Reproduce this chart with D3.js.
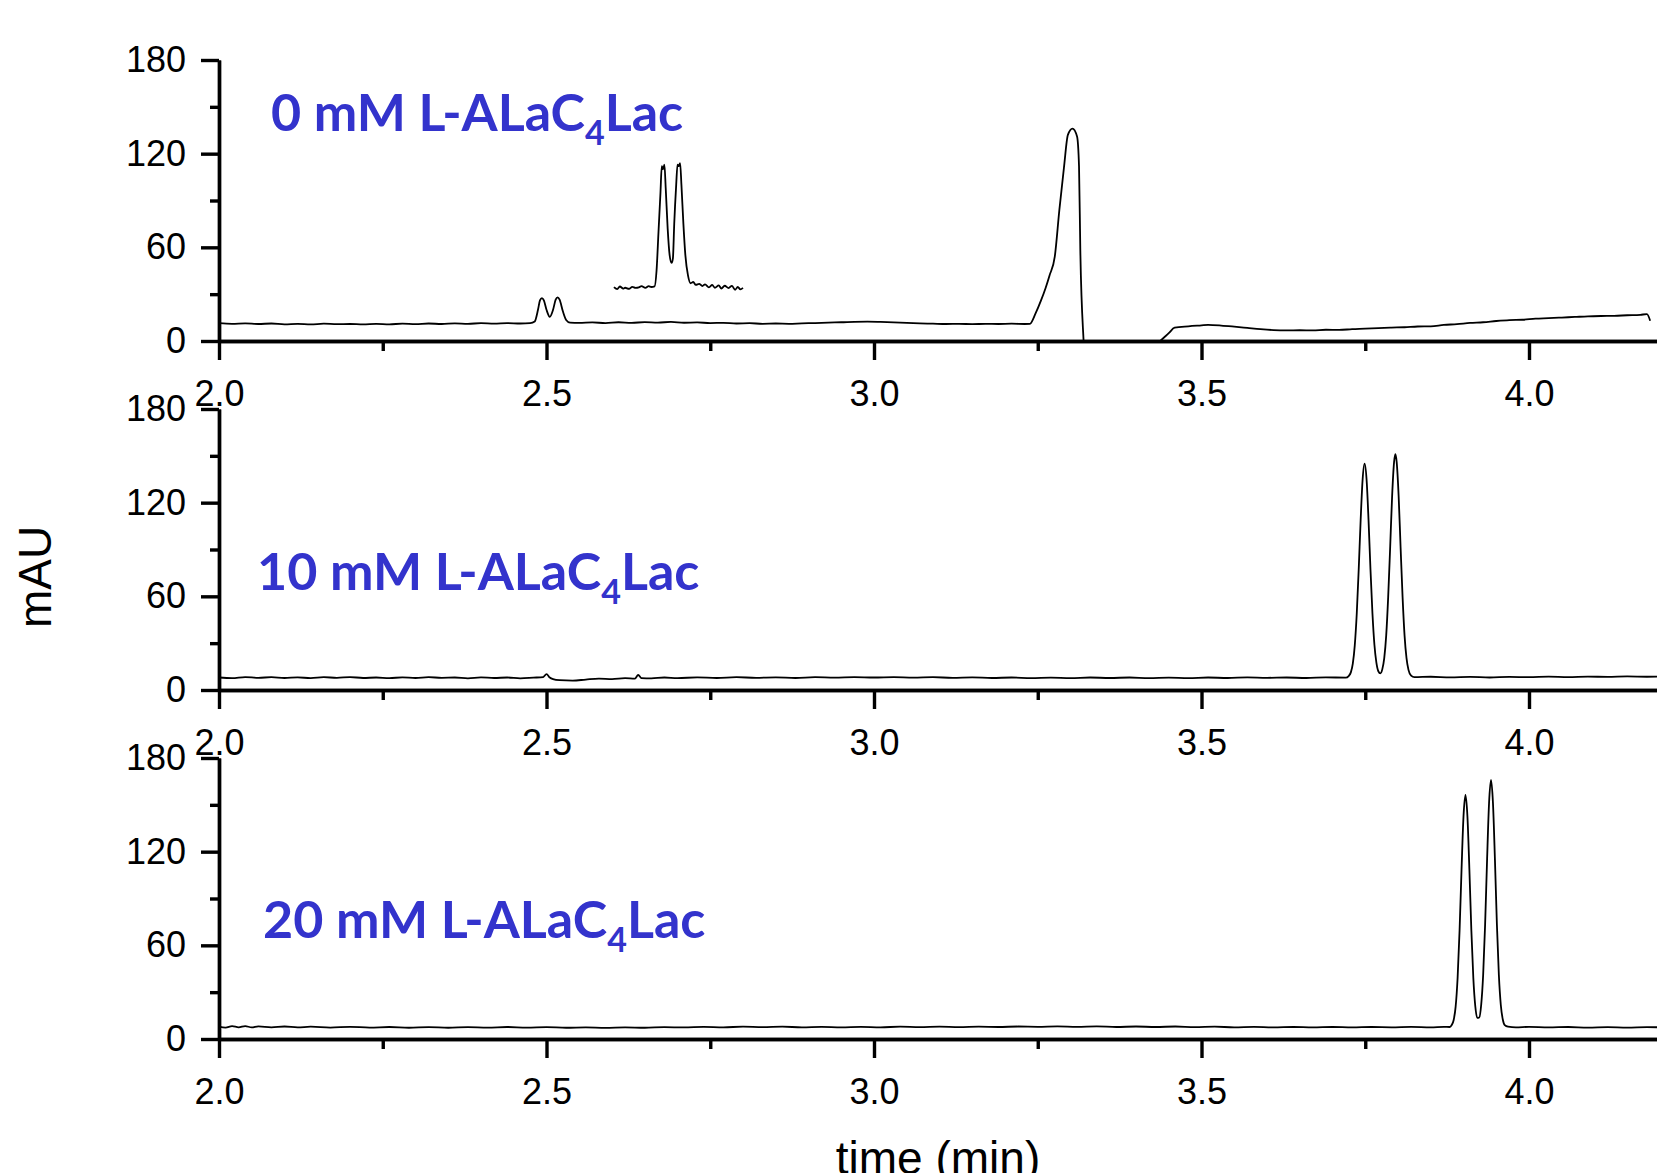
<!DOCTYPE html>
<html>
<head>
<meta charset="utf-8">
<script src="https://cdn.jsdelivr.net/npm/d3@7"></script>
<style>
  body { margin: 0; background: #fff; }
  svg { display: block; }
</style>
</head>
<body>
<svg></svg>
<script>
// tick values
const timeTicks = [2.0, 2.5, 3.0, 3.5, 4.0];
const timeMinorTicks = [2.25, 2.75, 3.25, 3.75];
const mauTicks = [0, 60, 120, 180];
const mauMinorTicks = [30, 90, 150];

// panel labels (concentration + compound, "4" is a subscript)
const concLabels = ["0 mM", "10 mM", "20 mM"];
const compoundHead = "L-ALaC";
const compoundSub = "4";
const compoundTail = "Lac";

// chromatograms, [time (min), mAU]
const trace0mM = [
  [2.00, 11.4], [2.02, 11.0], [2.04, 11.3], [2.06, 10.9], [2.08, 11.2], [2.10, 10.7],
  [2.12, 11.0], [2.14, 10.6], [2.16, 11.1], [2.18, 10.8], [2.20, 10.9], [2.22, 10.6],
  [2.24, 11.0], [2.26, 10.7], [2.28, 11.1], [2.30, 10.8], [2.32, 11.2], [2.34, 10.9],
  [2.36, 11.3], [2.38, 11.0], [2.40, 11.4], [2.42, 11.1], [2.44, 11.5], [2.46, 11.2],
  [2.475, 11.4], [2.482, 12.5], [2.487, 20], [2.490, 26], [2.493, 27.5], [2.496, 26],
  [2.500, 20], [2.505, 15.5], [2.510, 20], [2.514, 26.5], [2.517, 28], [2.520, 26.5],
  [2.525, 19], [2.530, 13.5], [2.536, 11.8], [2.55, 11.6], [2.57, 11.9], [2.59, 11.5],
  [2.61, 12.0], [2.63, 11.6], [2.65, 12.1], [2.67, 11.8], [2.69, 12.2], [2.71, 11.7],
  [2.73, 11.9], [2.75, 11.5], [2.77, 11.6], [2.79, 11.2], [2.81, 11.4], [2.83, 11.0],
  [2.85, 11.2], [2.87, 11.0], [2.89, 11.3], [2.91, 11.5], [2.93, 11.8], [2.95, 12.0],
  [2.97, 12.3], [2.99, 12.4], [3.01, 12.2], [3.03, 11.9], [3.05, 11.6], [3.07, 11.3],
  [3.09, 11.1], [3.11, 10.9], [3.13, 11.0], [3.15, 10.8], [3.17, 11.0], [3.19, 10.9],
  [3.21, 11.1], [3.23, 10.9], [3.238, 11.0], [3.247, 18], [3.255, 26], [3.262, 34],
  [3.268, 42], [3.276, 54], [3.283, 84], [3.290, 111], [3.296, 132], [3.303, 136],
  [3.310, 131], [3.313, 112], [3.315, 58], [3.320, 0], [3.326, -30], [3.35, -40],
  [3.40, -25], [3.43, -3], [3.437, 0], [3.450, 5], [3.459, 8.5], [3.48, 9.4],
  [3.50, 10.0], [3.51, 10.3], [3.53, 9.9], [3.55, 9.2], [3.57, 8.4], [3.59, 7.6],
  [3.61, 7.0], [3.63, 6.8], [3.65, 6.9], [3.67, 6.8], [3.69, 7.2], [3.71, 7.1],
  [3.73, 7.6], [3.75, 7.9], [3.77, 8.3], [3.79, 8.6], [3.81, 8.8], [3.83, 9.3],
  [3.85, 9.4], [3.87, 10.3], [3.89, 10.8], [3.91, 11.6], [3.93, 12.0], [3.95, 12.8],
  [3.97, 13.4], [3.99, 13.6], [4.01, 14.3], [4.03, 14.6], [4.05, 15.0], [4.07, 15.4],
  [4.09, 15.8], [4.11, 16.0], [4.13, 16.1], [4.15, 16.5], [4.17, 16.8], [4.18, 17.2],
  [4.185, 13]
];

// enlarged copy of the small peaks, drawn inside the first panel
const inset0mM = [
  [2.603, 34.5], [2.608, 33.2], [2.612, 34.9], [2.617, 33.6], [2.620, 34.1], [2.626, 33.4],
  [2.631, 34.7], [2.636, 34.0], [2.641, 34.3], [2.645, 35.2], [2.651, 34.0], [2.656, 35.1],
  [2.660, 34.6], [2.665, 35.0], [2.668, 45], [2.671, 70], [2.674, 95], [2.676, 112],
  [2.678, 110], [2.680, 113], [2.682, 98], [2.685, 72], [2.688, 55], [2.691, 50],
  [2.693, 53], [2.695, 75], [2.698, 100], [2.700, 113], [2.702, 112], [2.704, 114],
  [2.706, 100], [2.709, 75], [2.712, 55], [2.716, 42], [2.720, 37], [2.724, 37.8],
  [2.728, 35.9], [2.733, 36.6], [2.738, 35.2], [2.742, 36.3], [2.748, 34.4], [2.753, 35.9],
  [2.757, 34.1], [2.763, 35.6], [2.767, 33.6], [2.772, 35.4], [2.778, 33.9], [2.783, 35.3],
  [2.788, 32.8], [2.792, 34.6], [2.796, 33.1], [2.800, 34.0]
];

const trace10mM = [
  [2.00, 8.0], [2.02, 7.6], [2.04, 8.3], [2.06, 7.8], [2.08, 8.2], [2.10, 7.7], [2.12, 8.1],
  [2.14, 7.6], [2.16, 8.2], [2.18, 7.8], [2.20, 8.3], [2.22, 7.7], [2.24, 8.0], [2.26, 7.6],
  [2.28, 8.1], [2.30, 7.7], [2.32, 8.2], [2.34, 7.8], [2.36, 8.0], [2.38, 7.5], [2.40, 8.1],
  [2.42, 7.7], [2.44, 8.0], [2.46, 7.4], [2.48, 7.9], [2.495, 8.3], [2.50, 10.2], [2.505, 8.0],
  [2.51, 7.0], [2.52, 6.3], [2.54, 6.0], [2.56, 6.7], [2.58, 7.3], [2.60, 7.0], [2.62, 7.6],
  [2.635, 7.3], [2.64, 9.6], [2.645, 7.6], [2.66, 7.4], [2.68, 8.0], [2.70, 7.6], [2.73, 8.1],
  [2.76, 7.7], [2.79, 8.2], [2.82, 7.8], [2.85, 8.1], [2.88, 7.7], [2.91, 8.2], [2.94, 7.9],
  [2.97, 8.3], [3.00, 8.0], [3.03, 8.3], [3.06, 7.9], [3.09, 8.2], [3.12, 7.8], [3.15, 8.1],
  [3.18, 7.7], [3.21, 8.0], [3.24, 7.6], [3.27, 7.9], [3.30, 7.6], [3.33, 8.0], [3.36, 7.7],
  [3.39, 8.0], [3.42, 7.6], [3.45, 7.9], [3.48, 7.6], [3.51, 8.0], [3.54, 7.7], [3.57, 8.1],
  [3.60, 7.8], [3.63, 8.0], [3.66, 7.7], [3.69, 8.1], [3.72, 7.9], [3.725, 9.1], [3.728, 11.3],
  [3.731, 16.9], [3.734, 28.6], [3.737, 48.7], [3.740, 77.2], [3.743, 109], [3.746, 135],
  [3.749, 145], [3.752, 135], [3.755, 109], [3.758, 77], [3.761, 49], [3.764, 29],
  [3.767, 17.5], [3.770, 12], [3.773, 10.7], [3.776, 13.2], [3.779, 20.4], [3.782, 35],
  [3.785, 59.5], [3.788, 91], [3.791, 124], [3.794, 146], [3.796, 151], [3.798, 146],
  [3.801, 124], [3.804, 91], [3.807, 59.5], [3.810, 35], [3.813, 20.4], [3.816, 12.9],
  [3.820, 9.2], [3.825, 8.2], [3.85, 8.5], [3.88, 8.1], [3.91, 8.4], [3.94, 8.0],
  [3.97, 8.4], [4.00, 8.2], [4.03, 8.6], [4.06, 8.3], [4.09, 8.6], [4.12, 8.4],
  [4.15, 8.7], [4.18, 8.5], [4.21, 8.7]
];

const trace20mM = [
  [2.00, 8.0], [2.01, 7.3], [2.02, 8.2], [2.03, 7.5], [2.04, 8.3], [2.05, 7.4], [2.06, 8.1],
  [2.08, 7.5], [2.10, 8.0], [2.12, 7.4], [2.14, 7.9], [2.17, 7.3], [2.20, 7.8], [2.23, 7.3],
  [2.26, 7.7], [2.29, 7.2], [2.32, 7.6], [2.35, 7.2], [2.38, 7.6], [2.41, 7.3], [2.44, 7.7],
  [2.47, 7.3], [2.50, 7.6], [2.53, 7.2], [2.56, 7.5], [2.59, 7.1], [2.62, 7.5], [2.65, 7.2],
  [2.68, 7.6], [2.71, 7.4], [2.74, 7.8], [2.77, 7.5], [2.80, 7.9], [2.83, 7.6], [2.86, 7.9],
  [2.89, 7.5], [2.92, 7.8], [2.95, 7.5], [2.98, 7.8], [3.01, 7.5], [3.04, 7.9], [3.07, 7.6],
  [3.10, 7.9], [3.13, 7.6], [3.16, 7.9], [3.19, 7.7], [3.22, 8.0], [3.25, 7.8], [3.28, 8.1],
  [3.31, 7.8], [3.34, 8.1], [3.37, 7.7], [3.40, 8.0], [3.43, 7.7], [3.46, 8.0], [3.49, 7.6],
  [3.52, 7.9], [3.55, 7.5], [3.58, 7.8], [3.61, 7.4], [3.64, 7.7], [3.67, 7.4], [3.70, 7.7],
  [3.73, 7.4], [3.76, 7.7], [3.79, 7.5], [3.82, 7.8], [3.85, 7.5], [3.87, 7.8], [3.879, 7.7],
  [3.882, 9.0], [3.885, 12.2], [3.888, 20.7], [3.891, 39.1], [3.894, 69.5], [3.897, 108.4],
  [3.900, 142.5], [3.903, 156.3], [3.906, 142.5], [3.909, 108.4], [3.912, 69.5], [3.915, 39.1],
  [3.918, 21], [3.921, 13.5], [3.924, 13.8], [3.927, 21.9], [3.930, 41], [3.933, 73.4],
  [3.936, 114.8], [3.939, 151], [3.942, 165.9], [3.945, 151], [3.948, 114.8], [3.951, 73.4],
  [3.954, 41], [3.957, 21.6], [3.960, 12.5], [3.963, 8.9], [3.968, 7.9], [3.98, 7.5],
  [4.00, 7.8], [4.03, 7.4], [4.06, 7.7], [4.09, 7.3], [4.12, 7.6], [4.15, 7.3], [4.18, 7.6],
  [4.21, 7.4]
];

const traces = [[trace0mM, inset0mM], [trace10mM], [trace20mM]];

// graph dimensions
const width = 1657;
const height = 1173;
const left = 219;
const right = 1660;
const panelTop = [60, 409, 758];
const panelBottom = [341, 690, 1039];
const labelPos = [[271, 131], [257, 590], [263, 938]];

const axisFont = "'Liberation Sans', Arial, sans-serif";
const labelColor = "#3333cc";

let xScale;
let yScales = [];
const svg = d3.select("svg");

const drawGraph = () => {
  svg.attr("width", width).attr("height", height);
  svg.append("rect").attr("width", width).attr("height", height).attr("fill", "#fff");
};

const createScales = () => {
  xScale = d3.scaleLinear().domain([2.0, 4.2]).range([left, right]);
  yScales = panelTop.map((top, i) =>
    d3.scaleLinear().domain([0, 180]).range([panelBottom[i], top])
  );
};

const styleAxis = (g) => {
  g.select(".domain").attr("stroke", "#000").attr("stroke-width", 3.4);
  g.selectAll(".tick line").attr("stroke", "#000").attr("stroke-width", 3.4);
  g.selectAll(".tick text")
    .attr("fill", "#000")
    .style("font-family", axisFont)
    .style("font-size", "36px");
};

const drawAxis = () => {
  yScales.forEach((yScale, i) => {
    // x axis with major + minor ticks
    svg.append("g")
      .attr("transform", "translate(0," + panelBottom[i] + ")")
      .call(d3.axisBottom(xScale).tickValues(timeMinorTicks).tickSize(10).tickSizeOuter(0).tickFormat(""))
      .call(styleAxis);
    svg.append("g")
      .attr("transform", "translate(0," + panelBottom[i] + ")")
      .call(d3.axisBottom(xScale).tickValues(timeTicks).tickSize(19).tickSizeOuter(0)
        .tickPadding(20).tickFormat(d3.format(".1f")))
      .call(styleAxis);

    // y axis
    svg.append("g")
      .attr("transform", "translate(" + left + ",0)")
      .call(d3.axisLeft(yScale).tickValues(mauMinorTicks).tickSize(9).tickSizeOuter(0).tickFormat(""))
      .call(styleAxis);
    svg.append("g")
      .attr("transform", "translate(" + left + ",0)")
      .call(d3.axisLeft(yScale).tickValues(mauTicks).tickSize(18).tickSizeOuter(0).tickPadding(15))
      .call(styleAxis);
  });

  svg.append("text")
    .attr("transform", "translate(51,577) rotate(-90)")
    .attr("text-anchor", "middle")
    .style("font-family", axisFont)
    .style("font-size", "46px")
    .text("mAU");

  svg.append("text")
    .attr("x", 938)
    .attr("y", 1174)
    .attr("text-anchor", "middle")
    .style("font-family", axisFont)
    .style("font-size", "46px")
    .text("time (min)");
};

const drawLines = () => {
  yScales.forEach((yScale, i) => {
    svg.append("clipPath")
      .attr("id", "clip" + i)
      .append("rect")
      .attr("x", left)
      .attr("y", panelTop[i] - 20)
      .attr("width", right - left)
      .attr("height", panelBottom[i] - panelTop[i] + 20);

    const line = d3.line()
      .x((d) => xScale(d[0]))
      .y((d) => yScale(d[1]))
      .curve(d3.curveMonotoneX);

    svg.append("g")
      .attr("clip-path", "url(#clip" + i + ")")
      .selectAll("path")
      .data(traces[i])
      .enter()
      .append("path")
      .attr("d", line)
      .attr("fill", "none")
      .attr("stroke", "#000")
      .attr("stroke-width", 1.8)
      .attr("stroke-linejoin", "round");
  });
};

const drawLabels = () => {
  concLabels.forEach((conc, i) => {
    const t = svg.append("text")
      .attr("x", labelPos[i][0])
      .attr("y", labelPos[i][1])
      .attr("fill", labelColor)
      .style("font-family", "Lato, 'Open Sans', sans-serif")
      .style("font-weight", "bold")
      .style("font-size", "52px");
    t.append("tspan").text(conc + " " + compoundHead);
    t.append("tspan").attr("dy", 14).style("font-size", "34px").text(compoundSub);
    t.append("tspan").attr("dy", -14).text(compoundTail);
  });
};

drawGraph();
createScales();
drawLines();
drawAxis();
drawLabels();
</script>
</body>
</html>
